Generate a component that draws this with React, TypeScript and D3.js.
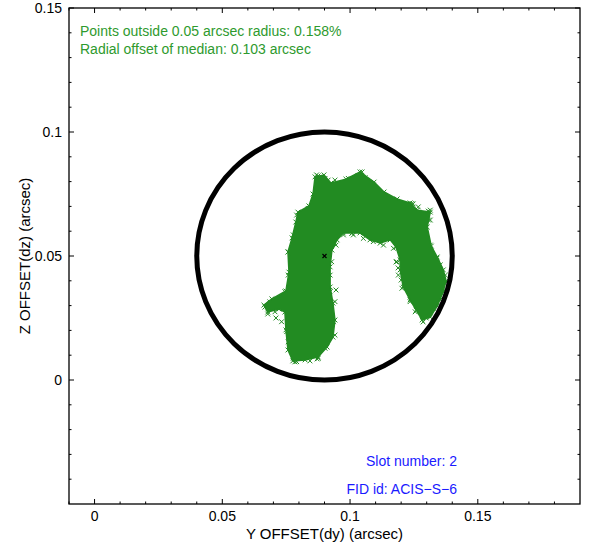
import React, {useEffect, useRef} from 'react';
import * as d3 from 'd3';

// cloud outline (arcsec), traced round the horseshoe
const outlineDy = [
  0.0776, 0.0757, 0.0749, 0.0745, 0.0722, 0.0678, 0.0663, 0.0694, 0.0749, 0.0761,
  0.0757, 0.0773, 0.0788, 0.0796, 0.0839, 0.0855, 0.0863, 0.0898, 0.0925, 0.0984,
  0.1039, 0.1094, 0.1133, 0.1184, 0.1235, 0.1263, 0.1314, 0.1302, 0.1318, 0.1341,
  0.1365, 0.1376, 0.1361, 0.1341, 0.1314, 0.1282, 0.1259, 0.1235, 0.1208, 0.1196,
  0.1196, 0.1180, 0.1157, 0.1118, 0.1078, 0.1039, 0.1008, 0.0973, 0.0949, 0.0929,
  0.0922, 0.0922, 0.0933, 0.0941, 0.0933, 0.0910, 0.0875, 0.0824
];
const outlineDz = [
  0.0077, 0.0121, 0.0202, 0.0274, 0.0286, 0.0274, 0.0302, 0.0327, 0.0359, 0.0435,
  0.0516, 0.0573, 0.0637, 0.0677, 0.0702, 0.0750, 0.0819, 0.0827, 0.0794, 0.0810,
  0.0839, 0.0798, 0.0758, 0.0730, 0.0714, 0.0685, 0.0677, 0.0617, 0.0540, 0.0496,
  0.0444, 0.0399, 0.0347, 0.0298, 0.0254, 0.0242, 0.0282, 0.0323, 0.0375, 0.0444,
  0.0484, 0.0536, 0.0565, 0.0552, 0.0565, 0.0593, 0.0593, 0.0593, 0.0565, 0.0524,
  0.0456, 0.0375, 0.0310, 0.0242, 0.0173, 0.0133, 0.0093, 0.0081
];

// more points on the ragged edge of the cloud
const edgeDy = [
  0.0869, 0.0902, 0.0941, 0.0993, 0.0863, 0.0836, 0.0791, 0.0797, 0.0778, 0.0784,
  0.0758, 0.0771, 0.0758, 0.0745, 0.0686, 0.0706, 0.0732, 0.0752, 0.0758, 0.0778,
  0.0791, 0.0836, 0.0876, 0.0902, 0.0941, 0.0935, 0.0941, 0.0922, 0.0922, 0.0928,
  0.0928, 0.0974, 0.1007, 0.1091, 0.1131, 0.1183, 0.1242, 0.1314, 0.1307, 0.1287,
  0.1314, 0.1340, 0.1353, 0.1373, 0.1366, 0.1327, 0.1301, 0.1255, 0.1235, 0.1203,
  0.1189, 0.1183, 0.1170, 0.1131, 0.1091, 0.1052, 0.1013
];
const edgeDz = [
  0.0827, 0.0813, 0.0806, 0.0813, 0.0733, 0.0692, 0.0665, 0.0598, 0.0585, 0.0531,
  0.0517, 0.0477, 0.0423, 0.0356, 0.0309, 0.0275, 0.0235, 0.0195, 0.0154, 0.0088,
  0.0074, 0.0094, 0.0088, 0.0128, 0.0181, 0.0235, 0.0316, 0.0356, 0.0423, 0.0477,
  0.0565, 0.0585, 0.0591, 0.0786, 0.0746, 0.0719, 0.0712, 0.0685, 0.0645, 0.0598,
  0.0544, 0.0491, 0.0464, 0.0423, 0.0356, 0.0289, 0.0262, 0.0275, 0.0316, 0.0370,
  0.0423, 0.0477, 0.0531, 0.0544, 0.0558, 0.0571, 0.0585
];

// loose points around the cloud
const strayDy = [
  0.0667, 0.0686, 0.0710, 0.0678, 0.0710, 0.0729, 0.0784, 0.0804, 0.0871, 0.0843,
  0.0875, 0.0890, 0.0914, 0.1047, 0.1031, 0.1059, 0.1247, 0.1267, 0.1306, 0.1314,
  0.1373, 0.1380, 0.1353, 0.1286, 0.1298, 0.0945, 0.0945, 0.1188, 0.1200, 0.1180
];
const strayDz = [
  0.0294, 0.0315, 0.0302, 0.0266, 0.0250, 0.0323, 0.0073, 0.0089, 0.0085, 0.0077,
  0.0823, 0.0815, 0.0806, 0.0839, 0.0823, 0.0815, 0.0710, 0.0698, 0.0681, 0.0645,
  0.0363, 0.0395, 0.0323, 0.0234, 0.0250, 0.0363, 0.0544, 0.0452, 0.0403, 0.0476
];

const median = [0.09, 0.05];
const radius = 0.05;

const majorTicks = [0, 0.05, 0.1, 0.15];
const tickLabels = ['0', '0.05', '0.1', '0.15'];
const minorX = [-0.01, 0.01, 0.02, 0.03, 0.04, 0.06, 0.07, 0.08, 0.09, 0.11, 0.12, 0.13, 0.14, 0.16, 0.17, 0.18];
const minorY = [-0.04, -0.03, -0.02, -0.01, 0.01, 0.02, 0.03, 0.04, 0.06, 0.07, 0.08, 0.09, 0.11, 0.12, 0.13, 0.14];

const infoLines = ['Points outside 0.05 arcsec radius: 0.158%', 'Radial offset of median: 0.103 arcsec'];
const slotLines = ['Slot number: 2', 'FID id: ACIS\u2212S\u22126'];

export default function App() {
  const ref = useRef<SVGSVGElement>(null);

  useEffect(() => {
    const svg = d3.select(ref.current);
    svg.selectAll('*').remove();

    const left = 69, right = 580, top = 8, bottom = 504;
    const x = d3.scaleLinear().domain([-0.01, 0.19]).range([left, right]);
    const y = d3.scaleLinear().domain([-0.05, 0.15]).range([bottom, top]);
    const font = '"Liberation Sans", Arial, Helvetica, sans-serif';
    const green = '#228b22';

    // the cloud: filled outline plus x markers on its edge
    const outline: [number, number][] = outlineDy.map((d, i) => [x(d), y(outlineDz[i])]);
    svg.append('path')
        .attr('d', d3.line().curve(d3.curveLinearClosed)(outline))
        .attr('fill', green)
        .attr('stroke', green)
        .attr('stroke-width', 1.5)
        .attr('stroke-linejoin', 'round');

    const toPx = (xs: number[], ys: number[]) => xs.map((d, i) => [x(d), y(ys[i])] as [number, number]);
    const marks = outline.concat(toPx(edgeDy, edgeDz), toPx(strayDy, strayDz));
    const s = 2.4;
    svg.append('g')
        .selectAll('path')
        .data(marks)
        .enter().append('path')
        .attr('d', d => `M${d[0] - s},${d[1] - s}L${d[0] + s},${d[1] + s}M${d[0] - s},${d[1] + s}L${d[0] + s},${d[1] - s}`)
        .attr('stroke', green)
        .attr('stroke-width', 1);

    // median marker
    const mx = x(median[0]), my = y(median[1]);
    svg.append('path')
        .attr('d', `M${mx - 2},${my - 2}L${mx + 2},${my + 2}M${mx - 2},${my + 2}L${mx + 2},${my - 2}`)
        .attr('stroke', '#000')
        .attr('stroke-width', 1.2);

    // 0.05 arcsec circle round the median
    svg.append('ellipse')
        .attr('cx', mx)
        .attr('cy', my)
        .attr('rx', x(median[0] + radius) - mx)
        .attr('ry', my - y(median[1] + radius))
        .attr('fill', 'none')
        .attr('stroke', '#000')
        .attr('stroke-width', 5);

    // frame and inward ticks on all four sides
    svg.append('rect')
        .attr('x', left).attr('y', top)
        .attr('width', right - left).attr('height', bottom - top)
        .attr('fill', 'none').attr('stroke', '#000').attr('stroke-width', 1.3);

    const ticks = svg.append('g').attr('stroke', '#000').attr('stroke-width', 1);
    const xTick = (v: number, len: number) => {
      ticks.append('line').attr('x1', x(v)).attr('x2', x(v)).attr('y1', bottom).attr('y2', bottom - len);
      ticks.append('line').attr('x1', x(v)).attr('x2', x(v)).attr('y1', top).attr('y2', top + len);
    };
    const yTick = (v: number, len: number) => {
      ticks.append('line').attr('y1', y(v)).attr('y2', y(v)).attr('x1', left).attr('x2', left + len);
      ticks.append('line').attr('y1', y(v)).attr('y2', y(v)).attr('x1', right).attr('x2', right - len);
    };
    majorTicks.forEach(v => { xTick(v, 5); yTick(v, 5); });
    minorX.forEach(v => xTick(v, 2.5));
    minorY.forEach(v => yTick(v, 2.5));

    svg.append('g').selectAll('text')
        .data(majorTicks)
        .enter().append('text')
        .attr('x', d => x(d))
        .attr('y', bottom + 17)
        .attr('text-anchor', 'middle')
        .style('font-family', font).style('font-size', '14px')
        .text((d, i) => tickLabels[i]);

    svg.append('g').selectAll('text')
        .data(majorTicks)
        .enter().append('text')
        .attr('x', left - 7)
        .attr('y', d => y(d) + 5)
        .attr('text-anchor', 'end')
        .style('font-family', font).style('font-size', '14px')
        .text((d, i) => tickLabels[i]);

    svg.append('text')
        .attr('x', (left + right) / 2)
        .attr('y', 539)
        .attr('text-anchor', 'middle')
        .style('font-family', font).style('font-size', '15px')
        .text('Y OFFSET(dy) (arcsec)');

    svg.append('text')
        .attr('transform', `translate(30,${(top + bottom) / 2}) rotate(-90)`)
        .attr('text-anchor', 'middle')
        .style('font-family', font).style('font-size', '15px')
        .text('Z OFFSET(dz) (arcsec)');

    svg.append('g').selectAll('text')
        .data(infoLines)
        .enter().append('text')
        .attr('x', 80)
        .attr('y', (d, i) => 36 + i * 18)
        .attr('fill', '#2e9a2e')
        .style('font-family', font).style('font-size', '14px')
        .text(d => d);

    svg.append('g').selectAll('text')
        .data(slotLines)
        .enter().append('text')
        .attr('x', 457)
        .attr('y', (d, i) => 466 + i * 28)
        .attr('text-anchor', 'end')
        .attr('fill', '#1a1aff')
        .style('font-family', font).style('font-size', '14px')
        .text(d => d);
  }, []);

  return <svg ref={ref} width={591} height={552} style={{position: 'absolute', left: 0, top: 0, background: '#fff'}}></svg>;
}
